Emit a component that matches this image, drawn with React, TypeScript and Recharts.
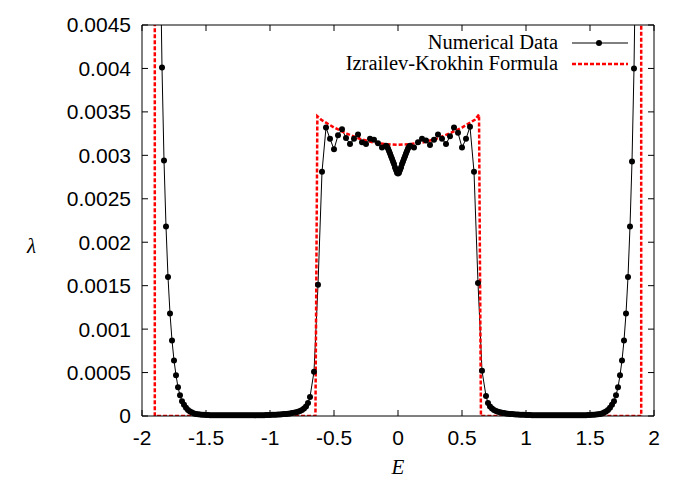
import React from "react";
import { LineChart, Line, XAxis, YAxis, Legend } from "recharts";

// energy grid steps of the numerical data
const TAIL_STEP = 1 / 64;
const MID_STEP = 1 / 32;
const DIP_STEP = 1 / 128;

// left band tail, E from -1.859375 to -0.6875 (first point runs off the top)
const leftTailStart = -1.859375;
const leftTail = [
  0.0056,
  0.00401, 0.00294, 0.00218, 0.0016, 0.00118, 0.00087, 0.00064, 0.00047, 0.00033, 0.00024,
  0.00017, 0.00013, 0.000095, 0.00007, 0.000052, 0.00004, 0.00003, 0.000024, 0.00002, 0.000017,
  0.000015, 0.000013, 0.000012, 0.000011, 0.00001, 0.00001, 0.000009, 0.000009, 0.000009, 0.000008,
  0.000008, 0.000008, 0.000008, 0.000008, 0.000008, 0.000008, 0.000008, 0.000008, 0.000008, 0.000008,
  0.000008, 0.000008, 0.000008, 0.000008, 0.000008, 0.000008, 0.000008, 0.000009, 0.000009, 0.000009,
  0.00001, 0.00001, 0.000011, 0.000011, 0.000012, 0.000013, 0.000014, 0.000015, 0.000016, 0.000018,
  0.00002, 0.000022, 0.000024, 0.000027, 0.00003, 0.000034, 0.000038, 0.000043, 0.00005, 0.000058,
  0.00007, 0.000085, 0.00011, 0.00015, 0.00022,
];

// band centre, E from -0.65625 to -0.125
const midLeftStart = -0.65625;
const midLeft = [
  0.00051, 0.00151, 0.00281, 0.00332, 0.00319, 0.00307, 0.00323, 0.0033, 0.0032,
  0.00313, 0.00319, 0.00324, 0.00315, 0.00313, 0.00319, 0.00318, 0.00314, 0.00309,
];

// dip around E = 0, from -0.09375 to 0.09375
const dipStart = -0.09375;
const dip = [
  0.00311, 0.0031, 0.00308, 0.00305, 0.00302, 0.00299, 0.00296, 0.00293, 0.0029, 0.00286, 0.00283, 0.0028,
  0.00279,
  0.0028, 0.00283, 0.00286, 0.0029, 0.00293, 0.00296, 0.00299, 0.00302, 0.00305, 0.00308, 0.0031, 0.00311,
];

// band centre, E from 0.125 to 0.65625
const midRightStart = 0.125;
const midRight = [
  0.00309, 0.00315, 0.00319, 0.00317, 0.00312, 0.00318, 0.00324, 0.00319, 0.00313,
  0.00322, 0.00332, 0.00326, 0.00309, 0.00319, 0.00333, 0.00281, 0.00153, 0.00052,
];

// right band tail, E from 0.6875 to 1.859375 (last point runs off the top)
const rightTailStart = 0.6875;
const rightTail = [
  0.00023,
  0.00015, 0.00011, 0.000085, 0.00007, 0.000058, 0.00005, 0.000043, 0.000038, 0.000034, 0.00003,
  0.000027, 0.000024, 0.000022, 0.00002, 0.000018, 0.000016, 0.000015, 0.000014, 0.000013, 0.000012,
  0.000011, 0.000011, 0.00001, 0.00001, 0.000009, 0.000009, 0.000009, 0.000008, 0.000008, 0.000008,
  0.000008, 0.000008, 0.000008, 0.000008, 0.000008, 0.000008, 0.000008, 0.000008, 0.000008, 0.000008,
  0.000008, 0.000008, 0.000008, 0.000008, 0.000009, 0.000009, 0.000009, 0.00001, 0.00001, 0.00001,
  0.000011, 0.000012, 0.000013, 0.000015, 0.000017, 0.00002, 0.000024, 0.00003, 0.00004, 0.000052,
  0.00007, 0.000095, 0.00013, 0.00017, 0.00024, 0.00033, 0.00047, 0.00064, 0.00087, 0.00118,
  0.0016, 0.00218, 0.00293, 0.004,
  0.0056,
];

// Izrailev-Krokhin formula
const formulaE = [-1.9, -1.9, -0.645, -0.63, -0.6, -0.5, -0.4, -0.3, -0.2, -0.1, 0, 0.1, 0.2, 0.3, 0.4, 0.5, 0.6, 0.633, 0.648, 1.9, 1.9];
const formulaLambda = [0.02, 0, 0, 0.00345, 0.00341, 0.00332, 0.00325, 0.00319, 0.00315, 0.00313, 0.00312, 0.00313, 0.00315, 0.00319, 0.00325, 0.00332, 0.00341, 0.00347, 0, 0, 0.02];

const xTicks = [-2, -1.5, -1, -0.5, 0, 0.5, 1, 1.5, 2];
const yTicks = [0, 0.0005, 0.001, 0.0015, 0.002, 0.0025, 0.003, 0.0035, 0.004, 0.0045];

const segment = (start: number, step: number, values: number[]) =>
  values.map((y, i) => ({ x: start + i * step, y }));

const numericalData = [
  ...segment(leftTailStart, TAIL_STEP, leftTail),
  ...segment(midLeftStart, MID_STEP, midLeft),
  ...segment(dipStart, DIP_STEP, dip),
  ...segment(midRightStart, MID_STEP, midRight),
  ...segment(rightTailStart, TAIL_STEP, rightTail),
];

const formulaData = formulaE.map((x, i) => ({ x, y: formulaLambda[i] }));

const SANS = "'Liberation Sans', Arial, sans-serif";
const SERIF = "'Liberation Serif', 'Times New Roman', serif";
const tickStyle = { fontFamily: SANS, fontSize: 21, fill: "#000" };

function LegendBox() {
  return (
    <svg width={330} height={54} style={{ display: "block", overflow: "visible" }}>
      <text x={256} y={17} textAnchor="end" fontFamily={SERIF} fontSize={20.5} fill="#000">
        Numerical Data
      </text>
      <line x1={270} x2={326} y1={11} y2={11} stroke="#000" strokeWidth={1} />
      <circle cx={297} cy={11} r={3} fill="#000" />
      <text x={256} y={38} textAnchor="end" fontFamily={SERIF} fontSize={20.5} fill="#000">
        Izrailev-Krokhin Formula
      </text>
      <line x1={270} x2={326} y1={32} y2={32} stroke="#ff0000" strokeWidth={2.5} strokeDasharray="4 2" />
    </svg>
  );
}

export default function App() {
  return (
    <LineChart width={684} height={470} margin={{ top: 16, right: 37, bottom: 0, left: 0 }}>
      <XAxis
        xAxisId="b"
        type="number"
        dataKey="x"
        domain={[-2, 2]}
        ticks={xTicks}
        allowDataOverflow
        height={62}
        stroke="#000"
        tickSize={-6}
        tickMargin={20}
        tick={tickStyle}
        label={{ value: "E", position: "insideBottom", offset: 4, style: { fontFamily: SERIF, fontStyle: "italic", fontSize: 21, fill: "#000" } }}
      />
      <XAxis
        xAxisId="t"
        orientation="top"
        type="number"
        dataKey="x"
        domain={[-2, 2]}
        ticks={xTicks}
        allowDataOverflow
        height={1}
        stroke="#000"
        tickSize={-6}
        tickFormatter={() => ""}
      />
      <YAxis
        yAxisId="l"
        type="number"
        domain={[0, 0.0045]}
        ticks={yTicks}
        allowDataOverflow
        width={134}
        stroke="#000"
        tickSize={-6}
        tickMargin={17}
        tick={tickStyle}
        label={{ value: "λ", position: "insideLeft", offset: 19, dy: 25, style: { fontFamily: SERIF, fontStyle: "italic", fontSize: 21, fill: "#000" } }}
      />
      <YAxis
        yAxisId="r"
        orientation="right"
        type="number"
        domain={[0, 0.0045]}
        ticks={yTicks}
        allowDataOverflow
        width={1}
        stroke="#000"
        tickSize={-6}
        tickFormatter={() => ""}
      />
      <Legend
        layout="horizontal"
        verticalAlign="middle"
        align="center"
        content={() => <LegendBox />}
        wrapperStyle={{ position: "absolute", left: 294, top: 24, width: 330, height: 54 }}
      />
      <Line
        xAxisId="b"
        yAxisId="l"
        data={numericalData}
        dataKey="y"
        type="linear"
        stroke="#000"
        strokeWidth={1}
        dot={{ r: 3, fill: "#000", stroke: "none", clipDot: false }}
        activeDot={false}
        isAnimationActive={false}
      />
      <Line
        xAxisId="b"
        yAxisId="l"
        data={formulaData}
        dataKey="y"
        type="linear"
        stroke="#ff0000"
        strokeWidth={2.5}
        strokeDasharray="4 2"
        dot={false}
        activeDot={false}
        isAnimationActive={false}
      />
    </LineChart>
  );
}
